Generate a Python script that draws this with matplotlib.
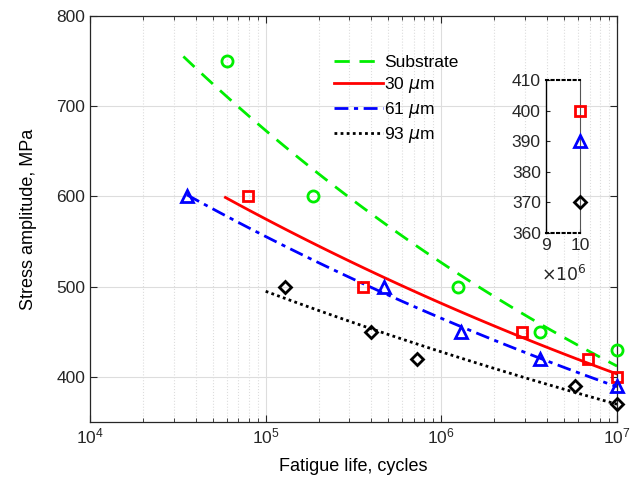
import numpy as np
import matplotlib.pyplot as plt

plt.rcParams['font.family'] = ['Liberation Sans', 'DejaVu Sans']
plt.rcParams['mathtext.fontset'] = 'dejavusans'

# test data (cycles, MPa)
sub_N = [6.0e4, 1.85e5, 1.25e6, 3.65e6, 1.0e7]
sub_S = [750, 600, 500, 450, 430]
c30_N = [7.9e4, 3.56e5, 2.88e6, 6.84e6, 1.0e7]
c30_S = [600, 500, 450, 420, 400]
c61_N = [3.56e4, 4.7e5, 1.3e6, 3.65e6, 1.0e7]
c61_S = [600, 500, 450, 420, 390]
c93_N = [1.28e5, 4.0e5, 7.3e5, 5.77e6, 1.0e7]
c93_S = [500, 450, 420, 390, 370]

# range of each Basquin fit line
fit_start = [3.4e4, 5.9e4, 3.56e4, 1.0e5]
fit_end = 1.0e7

labels = ['Substrate', r'30 $\mu$m', r'61 $\mu$m', r'93 $\mu$m']
colors = ['#00ee00', 'red', 'blue', 'black']
styles = [(0, (5.5, 3.5)), '-', (0, (5, 2, 1.5, 2)), (0, (1, 1.2))]
markers = ['o', 's', '^', 'D']
msizes = [8, 7, 9, 6.5]

series = [(sub_N, sub_S), (c30_N, c30_S), (c61_N, c61_S), (c93_N, c93_S)]

# inset window
ins_xlim = (9e6, 1e7)
ins_ylim = (360, 410)


def basquin(N, S, n0, n1):
    b, a = np.polyfit(np.log10(N), np.log10(S), 1)
    nn = np.logspace(np.log10(n0), np.log10(n1), 100)
    return nn, 10 ** (a + b * np.log10(nn))


fig = plt.figure(figsize=(6.42, 4.9), dpi=100)
ax = fig.add_axes([0.1402, 0.1388, 0.8209, 0.8285])

lines = []
for (N, S), n0, lab, c, ls, m, ms in zip(series, fit_start, labels, colors, styles, markers, msizes):
    xx, yy = basquin(N, S, n0, fit_end)
    ln, = ax.plot(xx, yy, color=c, linestyle=ls, linewidth=2, label=lab)
    lines.append(ln)
    ax.plot(N, S, linestyle='none', marker=m, markersize=ms, markerfacecolor='none',
            markeredgecolor=c, markeredgewidth=2, clip_on=False, zorder=5)

ax.set_xscale('log')
ax.set_xlim(1e4, 1e7)
ax.set_ylim(350, 800)
ax.set_yticks([400, 500, 600, 700, 800])
ax.grid(True, which='major', color='#dddddd', linewidth=0.8)
ax.grid(True, which='minor', axis='x', color='#dddddd', linestyle=':', linewidth=0.8)
ax.tick_params(which='both', direction='in', top=True, right=True, labelsize=12.5, colors='#262626')
ax.tick_params(which='major', length=5)
ax.tick_params(which='minor', length=3)
for sp in ax.spines.values():
    sp.set_color('#262626')
    sp.set_linewidth(0.9)
ax.set_xlabel('Fatigue life, cycles', fontsize=13, labelpad=8)
ax.set_ylabel('Stress amplitude, MPa', fontsize=13, labelpad=14)

ax.legend(handles=lines, loc='upper left', bbox_to_anchor=(0.44, 0.935), frameon=False,
          fontsize=12.5, handlelength=2.8, handletextpad=0.1, labelspacing=0.3,
          borderpad=0.2)

# inset around N = 1e7
axi = fig.add_axes([0.850, 0.525, 0.0534, 0.3116])
for (N, S), c, m, ms in zip(series, colors, markers, msizes):
    n_in = [n for n, s in zip(N, S) if ins_xlim[0] <= n <= ins_xlim[1] and ins_ylim[0] <= s <= ins_ylim[1]]
    s_in = [s for n, s in zip(N, S) if ins_xlim[0] <= n <= ins_xlim[1] and ins_ylim[0] <= s <= ins_ylim[1]]
    axi.plot(n_in, s_in, linestyle='none', marker=m, markersize=ms, markerfacecolor='none',
             markeredgecolor=c, markeredgewidth=2, clip_on=False, zorder=5)
axi.set_xlim(*ins_xlim)
axi.set_ylim(*ins_ylim)
axi.set_xticks([9e6, 1e7])
axi.set_xticklabels(['9', '10'])
axi.set_yticks([360, 370, 380, 390, 400, 410])
axi.tick_params(direction='in', labelsize=12.5, colors='#262626', length=3)
axi.spines['top'].set_linestyle(':')
axi.spines['bottom'].set_linestyle(':')
axi.spines['top'].set_linewidth(1.5)
axi.spines['bottom'].set_linewidth(1.5)
axi.spines['left'].set_linewidth(1.0)
axi.spines['right'].set_linewidth(0.8)
axi.spines['right'].set_color('#555555')
axi.text(-0.15, -0.27, r'$\times10^6$', transform=axi.transAxes, fontsize=12.5, color='#262626',
         ha='left', va='center')

fig.savefig('out.png', dpi=100)
